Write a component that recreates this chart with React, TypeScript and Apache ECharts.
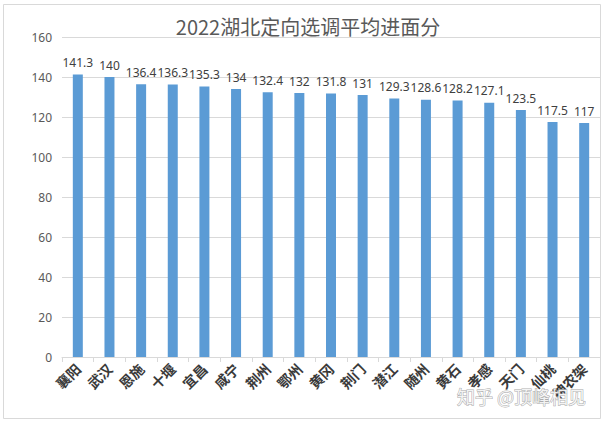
import React, { useEffect, useRef } from "react";
import * as echarts from "echarts";

const categories = ["襄阳", "武汉", "恩施", "十堰", "宜昌", "咸宁", "荆州", "鄂州", "黄冈", "荆门", "潜江", "随州", "黄石", "孝感", "天门", "仙桃", "神农架"];
const scores = [141.3, 140, 136.4, 136.3, 135.3, 134, 132.4, 132, 131.8, 131, 129.3, 128.6, 128.2, 127.1, 123.5, 117.5, 117];
const titleText = "2022湖北定向选调平均进面分";
const watermark = "知乎 @顶峰相见";

export default function App() {
  const ref = useRef<HTMLDivElement>(null);
  useEffect(() => {
    const chart = echarts.init(ref.current!, null, { renderer: "svg" });
    chart.setOption({
      animation: false,
      backgroundColor: "#ffffff",
      title: {
        text: titleText,
        left: 303,
        textAlign: "center",
        top: 11,
        textStyle: {
          fontFamily: "Noto Sans CJK SC",
          fontSize: 20,
          fontWeight: "normal",
          color: "#595959",
        },
      },
      grid: { left: 62, right: 6, top: 37, bottom: 66 },
      xAxis: {
        type: "category",
        data: categories,
        axisLine: { lineStyle: { color: "#d9d9d9" } },
        axisTick: { show: true, length: 5, lineStyle: { color: "#d9d9d9" } },
        axisLabel: {
          rotate: 45,
          interval: 0,
          margin: 9,
          fontFamily: "Noto Sans CJK SC",
          fontWeight: "bold",
          fontSize: 14,
          color: "#3a3a3a",
        },
      },
      yAxis: {
        type: "value",
        min: 0,
        max: 160,
        interval: 20,
        axisLine: { show: false },
        axisTick: { show: false },
        splitLine: { lineStyle: { color: "#d9d9d9" } },
        axisLabel: {
          margin: 10,
          fontFamily: "Noto Sans",
          fontSize: 12,
          color: "#595959",
        },
      },
      series: [
        {
          type: "bar",
          data: scores,
          barWidth: 10,
          itemStyle: { color: "#5b9bd5" },
          label: {
            show: true,
            position: "top",
            distance: 6,
            fontFamily: "Noto Sans",
            fontSize: 12,
            color: "#404040",
          },
        },
      ],
      graphic: [
        {
          type: "rect",
          shape: { x: 3.5, y: 4.5, width: 597, height: 414 },
          style: { fill: "none", stroke: "#d9d9d9", lineWidth: 1 },
          silent: true,
          z: -1,
        },
        {
          type: "text",
          x: 457,
          y: 387,
          style: {
            text: watermark,
            fontFamily: "Noto Sans CJK SC",
            fontSize: 18,
            fill: "rgba(255,255,255,0.85)",
            stroke: "rgba(150,150,150,0.8)",
            lineWidth: 1,
          },
          silent: true,
          z: 100,
        },
      ],
    });
    return () => chart.dispose();
  }, []);
  return (
    <div
      ref={ref}
      style={{ position: "absolute", left: 0, top: 0, width: 606, height: 423 }}
    />
  );
}
